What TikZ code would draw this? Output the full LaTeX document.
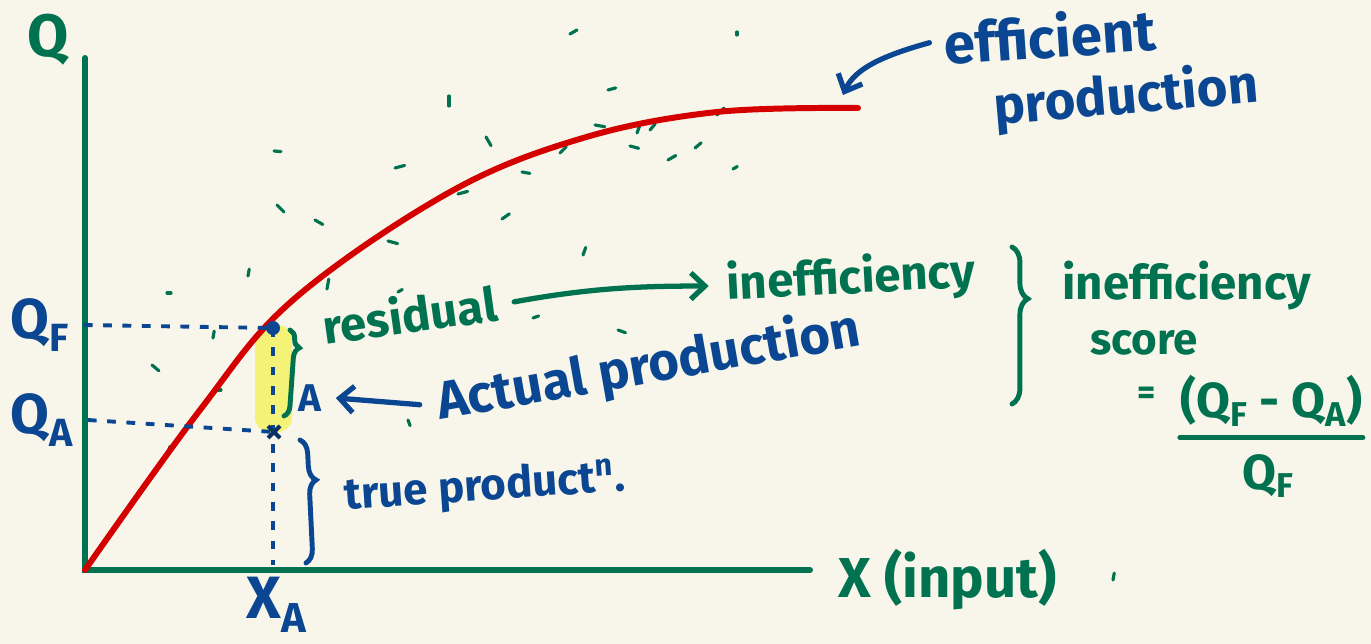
\documentclass[tikz,border=0pt]{standalone}
\usepackage{fontspec}
\setmainfont{Fira Sans}
\usetikzlibrary{arrows.meta,decorations.pathreplacing}
\definecolor{paper}{RGB}{248,246,234}
\definecolor{ink}{RGB}{0,114,80}
\definecolor{pen}{RGB}{10,70,145}
\definecolor{curvered}{RGB}{212,0,0}
\definecolor{marker}{RGB}{244,243,120}
\tikzset{
	axis/.style={ink, line width=3.4pt, line cap=round},
	guide/.style={pen, line width=2.2pt, dash pattern=on 5pt off 6pt},
	hand/.style={font=\bfseries\fontsize{#1}{#1}\selectfont, inner sep=0pt},
	speck/.style={ink, line width=1.8pt, line cap=round},
	barb/.style={-{Straight Barb[length=8pt,width=15pt]}, line width=3pt, line cap=round},
	curly/.style={decorate, decoration={brace, amplitude=#1}, line width=2.8pt, line cap=round},
}
\begin{document}
\begin{tikzpicture}[x=0.02cm, y=-0.02cm]
	\fill[paper] (0,0) rectangle (1371,644);
	\useasboundingbox (0,0) rectangle (1371,644);
	\fill[marker, rounded corners=8pt] (255,325) rectangle (292,432);
	\coordinate (O) at (85,570);
	\coordinate (F) at (273,328);
	\coordinate (P) at (274,432);
	\coordinate (E) at (858,108);
	\coordinate (tip) at (843,95);
	\draw[axis] (85,58) -- (O) -- (810,570);
	\foreach \x/\y/\a/\l in {570/34/-30/8, 737/32/90/3, 608/90/-15/8, 449/106/-90/10, 486/137/60/10, 595/125/10/10,
		274/151/5/7, 395/168/-15/10, 277/205/45/10, 315/220/30/9, 458/194/-15/10, 522/172/10/8, 560/153/-45/9,
		630/146/15/9, 637/133/-70/7, 650/130/-50/8, 695/148/-40/8, 668/160/-30/9, 717/115/-45/10, 733/169/-30/5,
		502/219/-35/9, 388/241/15/10, 583/255/-70/8, 327/289/-80/10, 398/292/-30/5, 167/293/0/4, 248/276/-80/7,
		152/365/40/9, 213/338/-80/7, 218/390/0/3, 168/452/-70/6, 533/318/-20/6, 618/330/20/8, 408/420/70/6, 1113/580/-80/7}
		\draw[speck] (\x,\y) -- ++(\a:\l);
	\draw[curvered, line width=3.4pt, line cap=round] plot[smooth, tension=0.6] coordinates {(O) (200,410) (293,300) (450,192) (583,138) (717,112) (E)};
	\node[hand=34, ink] (qaxis) at (48,40) {Q};
	\node[hand=32, pen] (qf) at (40,325) {Q\textsubscript{F}};
	\node[hand=32, pen] (qa) at (42,420) {Q\textsubscript{A}};
	\node[hand=34, pen] (xa) at (277,605) {X\textsubscript{A}};
	\node[hand=32, ink, anchor=west] (xin) at (838,580) {X (input)};
	\draw[guide] ([xshift=8pt]qf.east) -- (F);
	\draw[guide] ([xshift=8pt]qa.east) -- (P);
	\draw[guide] (F) -- ([yshift=3pt]F |- O);
	\fill[pen] (F) circle (4pt);
	\draw[pen!70!black, line width=2.4pt] (P) +(-6,-6) -- +(6,6) +(-6,6) -- +(6,-6);
	\draw[ink, curly=6pt, decoration={aspect=0.2}] (290,330) -- (284,416);
	\draw[pen, curly=8pt, decoration={aspect=0.33}] (300,440) -- (306,563);
	\node[hand=22, pen] (ptA) at (310,398) {A};
	\node[hand=30, pen, rotate=10, anchor=base west] (actual) at (440,420) {Actual production};
	\draw[pen, barb] ([xshift=-10pt]actual.west) -- ([xshift=8pt]ptA.east);
	\node[hand=25, pen, rotate=4, anchor=base west] (truep) at (345,510) {true product\textsuperscript{n}.};
	\node[hand=27, ink, rotate=8, anchor=base west] (residual) at (325,345) {residual};
	\node[hand=27, ink, rotate=3, anchor=base west] (ineff) at (727,300) {inefficiency};
	\draw[ink, barb] ([xshift=10pt]residual.east) .. controls (590,288) and (640,286) .. ([xshift=-10pt]ineff.west);
	\draw[ink, curly=9pt, decoration={aspect=0.33}] (1012,247) -- (1012,404);
	\node[hand=27, ink, anchor=base west] (ineffscore) at (1062,300) {inefficiency};
	\node[hand=25, ink, anchor=base west] (score) at (1090,355) {score};
	\node[hand=20, ink] (eq) at (1147,396) {=};
	\node[hand=28, ink, anchor=base west] (num) at (1180,418) {(Q\textsubscript{F} - Q\textsubscript{A})};
	\draw[ink, line width=3pt, line cap=round] ([yshift=-6pt]num.south west) -- ([yshift=-6pt]num.south east);
	\node[hand=28, ink] (den) at (1268,476) {Q\textsubscript{F}};
	\node[hand=32, pen, rotate=4, anchor=base west] (eff) at (945,65) {efficient};
	\node[hand=30, pen, rotate=5, anchor=base west] (effprod) at (995,125) {production};
	\draw[pen, barb] ([xshift=-8pt]eff.west) .. controls (885,55) and (855,68) .. (tip);
\end{tikzpicture}
\end{document}
